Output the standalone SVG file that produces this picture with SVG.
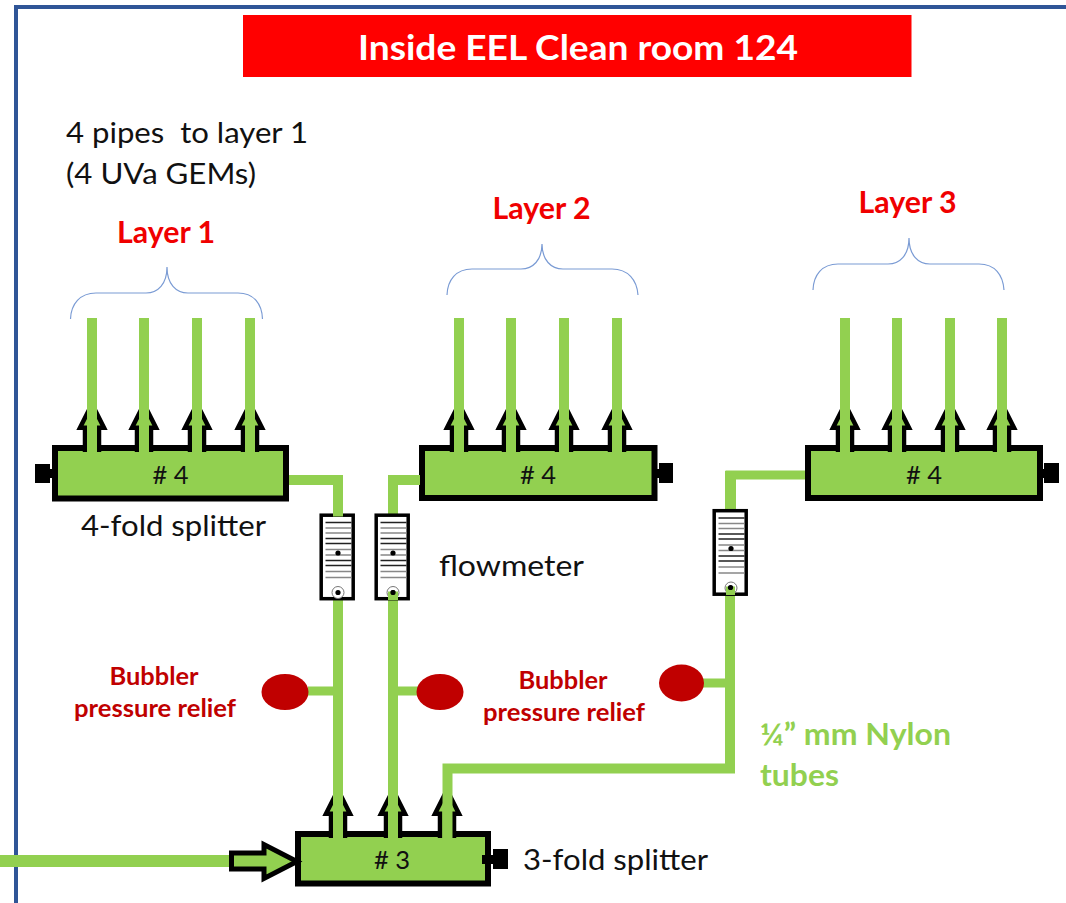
<svg xmlns="http://www.w3.org/2000/svg" xmlns:xlink="http://www.w3.org/1999/xlink" width="1066" height="903" viewBox="0 0 1066 903">
<style>
text{font-family:Lato,"Open Sans","Liberation Sans",sans-serif;fill:#111}
.body{font-size:29.500px}
.hash{font-size:25.500px;text-anchor:middle}
.layer{font-size:30px;font-weight:700;fill:#f00000;text-anchor:middle}
.bub{font-size:24.500px;font-weight:700;fill:#c00000;text-anchor:middle}
.nylon{font-size:31px;font-weight:700;fill:#92d050}
.box{fill:#92d050;stroke:#000;stroke-width:6}
.arrow{fill:#92d050;stroke:#000;stroke-width:4.500;stroke-miterlimit:8}
.pipe{fill:none;stroke:#92d050;stroke-width:10}
.brace{fill:none;stroke:#7a9bd4;stroke-width:1.200}
.bubbler{fill:#c00000}
.fm{fill:#fff;stroke:#000;stroke-width:3.500}
.d{stroke:#222;stroke-width:1.300}
.g{stroke:#888;stroke-width:1.600}
</style>
<defs>
<polyline id="up" class="arrow" points="-7,6 -7,-18.250 -12,-18.250 0,-42 12,-18.250 7,-18.250 7,6"/>
<g id="meter">
<rect class="fm" x="1.700" y="1.700" width="32" height="83.500"/>
<path class="d" d="M6 9H32M6 25H32M6 30H32M6 47H32M6 52H32"/>
<path class="g" d="M6 14.500H32M6 19.500H32M6 36H32M6 41.500H32M6 58H32M6 64H32"/>
<circle cx="18.500" cy="39.500" r="2.600" fill="#000"/>
<circle cx="18.500" cy="79" r="6" fill="#fff" stroke="#777" stroke-width="1"/>
<circle cx="18.500" cy="79" r="2.600" fill="#000"/>
</g>
</defs>

<rect width="1066" height="903" fill="#fff"/>
<g id="frame"><path d="M16 903V7H1066" fill="none" stroke="#2f5597" stroke-width="4"/></g>
<g id="title"><rect x="243" y="15" width="668.500" height="62" fill="#f00"/>
<text x="578" y="60" font-size="34.500" font-weight="700" text-anchor="middle" style="fill:#fff" textLength="440" lengthAdjust="spacingAndGlyphs">Inside EEL Clean room 124</text></g>

<g id="note"><text class="body" x="66" y="143" xml:space="preserve" textLength="242" lengthAdjust="spacingAndGlyphs">4 pipes  to layer 1</text>
<text class="body" x="66" y="184" textLength="190" lengthAdjust="spacingAndGlyphs">(4 UVa GEMs)</text></g>

<g id="layer1"><text class="layer" x="166" y="243" textLength="98" lengthAdjust="spacingAndGlyphs">Layer 1</text>
<path class="brace" d="M70.500 319C71 304 80 293 96 293H146C158 293 167 284 167 267C167 284 176 293 188 293H238C254 293 262 304 262.500 319"/></g>
<g id="layer2"><text class="layer" x="541.500" y="219" textLength="98" lengthAdjust="spacingAndGlyphs">Layer 2</text>
<path class="brace" d="M447 295C447.500 280 456 269 472 269H521C533 269 542 260 542 244C542 260 551 269 563 269H612C628 269 637 280 638 295"/></g>
<g id="layer3"><text class="layer" x="907.500" y="213" textLength="98" lengthAdjust="spacingAndGlyphs">Layer 3</text>
<path class="brace" d="M813 290C813.500 275 822 264 838 264H888C900 264 909 255 909 238C909 255 918 264 930 264H979C995 264 1003 275 1004 290"/></g>

<g id="splitter-layer1">
<rect x="35" y="464" width="15" height="19" fill="#000"/><rect x="48" y="469" width="6" height="9" fill="#000"/>
<rect class="box" x="55" y="448" width="231" height="50.500"/>
<use xlink:href="#up" href="#up" x="92" y="446"/><use xlink:href="#up" href="#up" x="144" y="446"/><use xlink:href="#up" href="#up" x="197" y="446"/><use xlink:href="#up" href="#up" x="250" y="446"/>
<text class="hash" x="170.500" y="484"># 4</text>
</g>
<g id="splitter-layer2">
<rect x="659" y="463" width="14" height="20" fill="#000"/><rect x="654" y="469" width="6" height="9" fill="#000"/>
<rect class="box" x="422" y="448" width="232.500" height="50"/>
<use xlink:href="#up" href="#up" x="459" y="446"/><use xlink:href="#up" href="#up" x="511" y="446"/><use xlink:href="#up" href="#up" x="564" y="446"/><use xlink:href="#up" href="#up" x="617" y="446"/>
<text class="hash" x="538" y="484"># 4</text>
</g>
<g id="splitter-layer3">
<rect x="1044" y="463" width="15" height="20" fill="#000"/><rect x="1040" y="469" width="6" height="9" fill="#000"/>
<rect class="box" x="808" y="448" width="232" height="50"/>
<use xlink:href="#up" href="#up" x="845" y="446"/><use xlink:href="#up" href="#up" x="897" y="446"/><use xlink:href="#up" href="#up" x="950" y="446"/><use xlink:href="#up" href="#up" x="1002" y="446"/>
<text class="hash" x="924" y="484"># 4</text>
</g>
<g id="splitter-3fold">
<rect class="box" x="298" y="834" width="190" height="49.500"/>
<rect x="493" y="849" width="15" height="20" fill="#000"/><rect x="482" y="855" width="12" height="9" fill="#000"/>
<use xlink:href="#up" href="#up" x="338" y="832"/><use xlink:href="#up" href="#up" x="393" y="832"/><use xlink:href="#up" href="#up" x="447" y="832"/>
<text class="hash" x="392" y="869"># 3</text>
</g>

<g id="connectors">
<path class="pipe" d="M92 318V453M144 318V453M197 318V453M250 318V453"/>
<path class="pipe" d="M459 318V453M511 318V453M564 318V453M617 318V453"/>
<path class="pipe" d="M845 318V453M897 318V453M950 318V453M1002 318V453"/>
<path class="pipe" d="M289 480H338V520"/>
<path class="pipe" d="M420 480H393V516"/>
<path class="pipe" d="M805 475H730V512" style="stroke-width:9"/>
<path d="M725 471V512H736V471Z" fill="#92d050"/>
<path class="pipe" d="M338 598V838"/>
<path class="pipe" d="M393 590V838"/>
<path class="pipe" d="M730 590V768.500H447.500V838"/>
<path class="pipe" d="M0 861H230" style="stroke-width:12"/>
<path class="pipe" d="M308 691H338M393 691H418M703 683H730" style="stroke-width:9"/>
</g>

<g id="inlet-arrow"><polygon points="231.500,853 264,853 264,844.500 297,861.500 264,878.500 264,869 231.500,869" fill="#92d050" stroke="#000" stroke-width="5"/></g>

<g id="flowmeter1"><use xlink:href="#meter" href="#meter" x="319.500" y="513.500"/><rect x="333" y="513" width="10" height="3.500" fill="#92d050"/></g>
<g id="flowmeter2"><use xlink:href="#meter" href="#meter" x="374.500" y="513.500"/><path d="M388 591.500h10V600h-10z" fill="#92d050"/><circle cx="393" cy="592.500" r="2.600" fill="#000"/></g>
<g id="flowmeter3"><use xlink:href="#meter" href="#meter" x="712.500" y="509"/><path d="M726 586.500h9V595h-9z" fill="#92d050"/><circle cx="730.500" cy="587.500" r="2.600" fill="#000"/></g>

<g id="bubbler1"><ellipse class="bubbler" cx="285" cy="692" rx="23.500" ry="18"/></g>
<g id="bubbler2"><ellipse class="bubbler" cx="440" cy="692" rx="23.500" ry="18"/></g>
<g id="bubbler3"><ellipse class="bubbler" cx="681.500" cy="683" rx="22.500" ry="18.500"/></g>

<g id="labels">
<text class="body" x="81" y="536" textLength="185" lengthAdjust="spacingAndGlyphs">4-fold splitter</text>
<text class="body" x="439" y="576" textLength="145" lengthAdjust="spacingAndGlyphs">flowmeter</text>
<text class="body" x="523" y="870" textLength="185" lengthAdjust="spacingAndGlyphs">3-fold splitter</text>
<text class="bub" x="154" y="685" textLength="89" lengthAdjust="spacingAndGlyphs">Bubbler</text>
<text class="bub" x="155" y="717" textLength="162" lengthAdjust="spacingAndGlyphs">pressure relief</text>
<text class="bub" x="563" y="689" textLength="89" lengthAdjust="spacingAndGlyphs">Bubbler</text>
<text class="bub" x="564" y="721" textLength="162" lengthAdjust="spacingAndGlyphs">pressure relief</text>
<text class="nylon" x="760" y="745" textLength="191" lengthAdjust="spacingAndGlyphs">¼” mm Nylon</text>
<text class="nylon" x="760" y="786" textLength="79" lengthAdjust="spacingAndGlyphs">tubes</text>
</g>
</svg>
